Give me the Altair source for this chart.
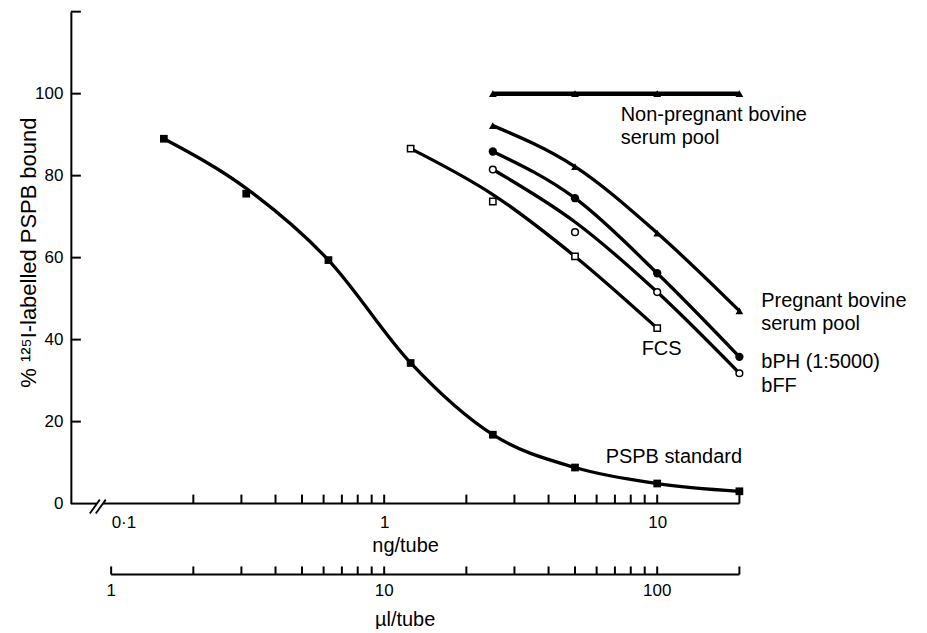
import altair as alt
import pandas as pd

# ---------------- data ----------------
# PSPB standard (ng/tube) and % bound
std_ng = [0.156, 0.3125, 0.625, 1.25, 2.5, 5, 10, 20]
std_pct = [89.0, 75.6, 59.4, 34.3, 16.8, 8.8, 4.9, 3.0]
std_curve = [89.0, 76.9, 59.4, 34.3, 16.8, 8.8, 4.9, 3.0]

# sera, expressed on the ng axis (ul/tube = 10 x ng/tube)
serum_ng = [2.5, 5, 10, 20]
nonpreg_pct = [100.0, 100.0, 100.0, 100.0]
preg_pct = [92.2, 82.2, 66.0, 47.0]
bph_pct = [85.9, 74.5, 56.2, 35.8]
bff_pct = [81.5, 66.2, 51.6, 31.8]
bff_curve = [81.5, 68.7, 51.6, 31.8]

fcs_ng = [1.25, 2.5, 5, 10]
fcs_pct = [86.6, 73.7, 60.3, 42.8]
fcs_curve = [86.6, 75.4, 60.3, 42.8]

# axes
ng_labels = [0.1, 1, 10]
ng_ticks = [0.2, 0.3, 0.4, 0.5, 0.6, 0.7, 0.8, 0.9, 1,
            2, 3, 4, 5, 6, 7, 8, 9, 10, 20]
ul_ticks = [1, 2, 3, 4, 5, 6, 7, 8, 9, 10,
            20, 30, 40, 50, 60, 70, 80, 90, 100, 200]
ul_labels = [1, 10, 100]
y_labels = [0, 20, 40, 60, 80, 100]
y_ticks = [20, 40, 60, 80, 100, 120]

# annotations (text, ng position, % position)
ann_text = ["Non-pregnant bovine", "serum pool", "Pregnant bovine", "serum pool",
            "bPH (1:5000)", "bFF", "FCS", "PSPB standard"]
ann_ng = [7.35, 7.35, 24.06, 24.06, 24.06, 24.06, 8.77, 6.475]
ann_pct = [93.4, 87.7, 48.0, 42.4, 33.0, 27.3, 36.3, 10.0]

# ---------------- build ----------------
X_MIN, X_MAX = 0.0712, 20
FONT = "Liberation Sans"
xs = alt.Scale(type="log", domain=[X_MIN, X_MAX], nice=False)
ys = alt.Scale(domain=[0, 120], nice=False, zero=False)

x_axis = alt.Axis(values=ng_labels, title="ng/tube", grid=False, ticks=False,
                  tickSize=0, domain=False, labelFontSize=17, labelFont=FONT,
                  labelColor="black", labelPadding=11,
                  labelAlign={"condition": {"test": "datum.value < 0.5",
                                            "value": "left"},
                              "value": "center"},
                  labelExpr="datum.value < 0.5 ? '0·1' : (datum.value < 5 ? '1' : '10')",
                  titleFont=FONT, titleFontSize=20, titleFontWeight="normal",
                  titleColor="black", titleBaseline="alphabetic", titleY=48)
y_axis = alt.Axis(values=y_labels, title="% ¹²⁵I-labelled PSPB bound",
                  grid=False, ticks=False, tickSize=0, domain=True,
                  domainColor="black", domainWidth=2,
                  labelFontSize=17, labelFont=FONT, labelColor="black",
                  labelPadding=8, titleFont=FONT, titleFontSize=22,
                  titleFontWeight="normal", titleColor="black",
                  titleBaseline="alphabetic", titleAngle=270, titleAlign="center",
                  titleX=-35, titleY=241)


def frame(name, ng, pct, curve=None):
    return pd.DataFrame({"series": name, "ng": ng, "pct": pct,
                         "curve": curve if curve is not None else pct})


std = frame("PSPB standard", std_ng, std_pct, std_curve)
nonpreg = frame("Non-pregnant", serum_ng, nonpreg_pct)
preg = frame("Pregnant", serum_ng, preg_pct)
bph = frame("bPH", serum_ng, bph_pct)
bff = frame("bFF", serum_ng, bff_pct, bff_curve)
fcs = frame("FCS", fcs_ng, fcs_pct, fcs_curve)
curves = pd.concat([std, preg, bph, bff, fcs])


def X(field="ng"):
    return alt.X(f"{field}:Q", scale=xs, axis=x_axis)


def Y(field="pct"):
    return alt.Y(f"{field}:Q", scale=ys, axis=y_axis)


def XD(v):
    return alt.XDatum(v, type="quantitative", scale=xs, axis=x_axis)


def YD(v):
    return alt.YDatum(v, type="quantitative", scale=ys, axis=y_axis)


lines = alt.Chart(curves).mark_line(
    interpolate="monotone", color="black", strokeWidth=3.3
).encode(x=X(), y=Y("curve"), detail="series:N")

nonpreg_line = alt.Chart(nonpreg).mark_line(color="black", strokeWidth=4.5).encode(
    x=X(), y=Y("curve"))

sq_filled = alt.Chart(std).mark_point(shape="square", filled=True, color="black",
                                      size=60, opacity=1).encode(x=X(), y=Y())
tri = alt.Chart(pd.concat([nonpreg, preg])).mark_point(
    shape="triangle-up", filled=True, color="black", size=60, opacity=1).encode(
    x=X(), y=Y())
circ = alt.Chart(bph).mark_point(shape="circle", filled=True, color="black",
                                 size=70, opacity=1).encode(x=X(), y=Y())
open_circ = alt.Chart(bff).mark_point(shape="circle", filled=True, fill="white",
                                      stroke="black", strokeWidth=1.5, size=45,
                                      opacity=1).encode(x=X(), y=Y())
open_sq = alt.Chart(fcs).mark_point(shape="square", filled=True, fill="white",
                                    stroke="black", strokeWidth=1.5, size=40,
                                    opacity=1).encode(x=X(), y=Y())

# ----- axis decorations -----
RULE = dict(color="black", strokeWidth=2, clip=False)
TICK_UP = 9 / 4.108      # ng tick length in % units
UL_Y = -17.28            # level of the ul/tube axis
UL_TICK = 8 / 4.108

ytick = alt.Chart(pd.DataFrame({"pct": y_ticks})).mark_rule(**RULE).encode(
    y=Y(), x=XD(X_MIN), x2=alt.datum(X_MIN * 1.088))

ngtick = alt.Chart(pd.DataFrame({"ng": ng_ticks})).mark_rule(**RULE).encode(
    x=X(), y=YD(0), y2=alt.datum(TICK_UP))

ng_dom = alt.Chart(pd.DataFrame({"ng": [X_MIN, 0.0932], "b": [0.0886, X_MAX]})
                   ).mark_rule(**RULE).encode(x=X(), x2="b:Q", y=YD(0))

brk = alt.Chart(pd.DataFrame({"ng": [0.08354, 0.08785], "b": [0.09087, 0.09557]})
                ).mark_rule(color="black", strokeWidth=1.8, clip=False).encode(
    x=X(), x2="b:Q", y=YD(-2.43), y2=alt.datum(0.97))

ultick = alt.Chart(pd.DataFrame({"ul": ul_ticks})).transform_calculate(
    ng="datum.ul / 10").mark_rule(**RULE).encode(
    x=X(), y=YD(UL_Y), y2=alt.datum(UL_Y + UL_TICK))
ul_dom = alt.Chart(pd.DataFrame({"ul": [ul_ticks[0]], "ul2": [ul_ticks[-1]]})
                   ).transform_calculate(ng="datum.ul / 10", ng2="datum.ul2 / 10"
                   ).mark_rule(**RULE).encode(x=X(), x2="ng2:Q", y=YD(UL_Y))
ul_lab = alt.Chart(pd.DataFrame({"ul": ul_labels})).transform_calculate(
    ng="datum.ul / 10").mark_text(font=FONT, fontSize=17, color="black",
                                  baseline="alphabetic", align="center", clip=False
                                  ).encode(x=X(), y=YD(-22.64), text="ul:Q")
ul_title = alt.Chart(pd.DataFrame({"t": ["µl/tube"]})).mark_text(
    font=FONT, fontSize=20, color="black", baseline="alphabetic", align="center",
    clip=False).encode(x=XD((X_MIN * X_MAX) ** 0.5), y=YD(-29.9), text="t:N")

ann = alt.Chart(pd.DataFrame({"text": ann_text, "ng": ann_ng, "pct": ann_pct})
                ).mark_text(font=FONT, fontSize=20, color="black", align="left",
                            baseline="alphabetic", clip=False).encode(
    x=X(), y=Y(), text="text:N")

chart = alt.layer(
    lines, nonpreg_line, ng_dom, brk, ngtick, ytick, ul_dom, ultick, ul_lab,
    ul_title, sq_filled, tri, circ, open_circ, open_sq, ann
).properties(
    width=670, height=493,
    autosize=alt.AutoSizeParams(type="none"),
    padding={"left": 63, "top": 3, "right": 180, "bottom": 125},
    background="white",
).configure_view(stroke=None)

chart.save("out.html", embed_options={"renderer": "svg", "actions": False})
